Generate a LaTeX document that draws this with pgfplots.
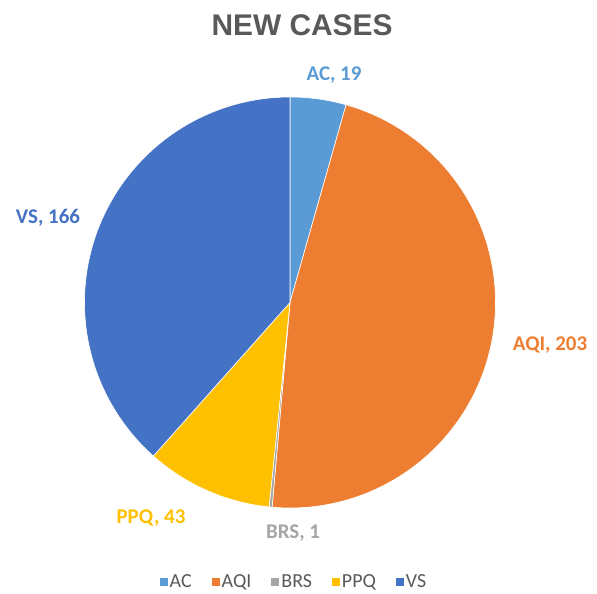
\documentclass[border=0pt]{standalone}
\usepackage{pgfplots}
\pgfplotsset{compat=1.18}
\usepackage{pgfplotstable}
\usepackage{fontspec}
\setmainfont{Carlito}
\newfontfamily\titlefont{Liberation Sans}
\definecolor{slice0}{HTML}{5B9BD5}
\definecolor{slice1}{HTML}{ED7D31}
\definecolor{slice2}{HTML}{A5A5A5}
\definecolor{slice3}{HTML}{FFC000}
\definecolor{slice4}{HTML}{4472C4}
\definecolor{titlegray}{HTML}{595959}

\pgfplotstableread{
label value
AC 19
AQI 203
BRS 1
PPQ 43
VS 166
}\piedata

% cumulative angles (start at 12 o'clock, clockwise)
\pgfmathsetmacro\total{0}
\pgfplotsforeachungrouped \i in {0,...,4}{%
  \pgfplotstablegetelem{\i}{value}\of\piedata
  \pgfmathsetmacro\total{\total+\pgfplotsretval}%
}
\pgfmathsetmacro\cum{0}
\pgfplotsforeachungrouped \i in {0,...,4}{%
  \pgfplotstablegetelem{\i}{value}\of\piedata
  \pgfmathsetmacro\sa{90-(\cum/\total)*360}%
  \pgfmathsetmacro\cum{\cum+\pgfplotsretval}%
  \pgfmathsetmacro\ea{90-(\cum/\total)*360}%
  \expandafter\xdef\csname sa\i\endcsname{\sa}%
  \expandafter\xdef\csname ea\i\endcsname{\ea}%
}
\def\cx{290}
\def\cy{287.5}
\def\rr{205.5}

\begin{document}
\begin{tikzpicture}
\begin{axis}[
  scale only axis,
  width=597bp, height=590bp,
  xmin=0, xmax=597, ymin=0, ymax=590,
  hide axis,
  clip=false,
  legend columns=-1,
  legend style={draw=none, fill=none, at={(axis cs:294,8)}, anchor=center,
    font=\fontsize{20}{22}\selectfont\color{titlegray},
    /tikz/every even column/.append style={column sep=18bp}},
  legend image code/.code={\fill[#1,draw=none] (0bp,-4bp) rectangle (8bp,4bp);},
]
\pgfplotsinvokeforeach{0,...,4}{%
  \addplot[fill=slice#1, draw=white, line width=0.6pt, domain=\csname ea#1\endcsname:\csname sa#1\endcsname,
    samples=120, variable=\t]
    ({\cx+\rr*cos(\t)},{\cy+\rr*sin(\t)}) -- (axis cs:\cx,\cy) -- cycle;
}
\legend{AC,AQI,BRS,PPQ,VS}
\path[draw=none] (rel axis cs:0,0) rectangle (rel axis cs:1,1);
\node[font=\titlefont\bfseries\fontsize{30}{34}\selectfont, text=titlegray] at (axis cs:302,565) {NEW CASES};
\node[font=\bfseries\fontsize{21}{24}\selectfont, text=slice0] at (axis cs:334,515) {AC, 19};
\node[font=\bfseries\fontsize{21}{24}\selectfont, text=slice1] at (axis cs:550,245) {AQI, 203};
\node[font=\bfseries\fontsize{21}{24}\selectfont, text=slice2] at (axis cs:293,57) {BRS, 1};
\node[font=\bfseries\fontsize{21}{24}\selectfont, text=slice3] at (axis cs:151,72) {PPQ, 43};
\node[font=\bfseries\fontsize{21}{24}\selectfont, text=slice4] at (axis cs:48,372) {VS, 166};
\end{axis}
\end{tikzpicture}
\end{document}
